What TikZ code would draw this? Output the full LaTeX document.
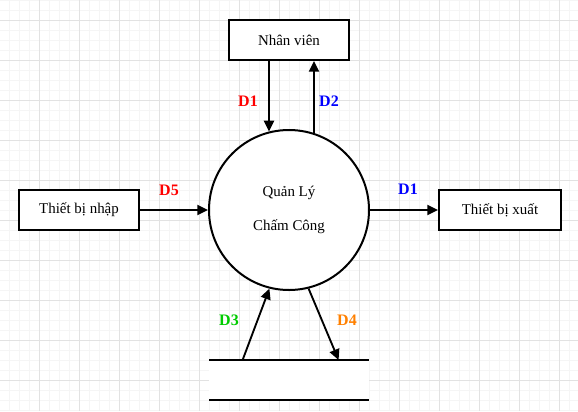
\documentclass[tikz,border=0pt]{standalone}
\usepackage{fontspec}
\setmainfont{Liberation Serif}
\usetikzlibrary{arrows.meta,calc}
\definecolor{gridmaj}{HTML}{E2E2E2}
\definecolor{gridmin}{HTML}{F5F5F5}
\definecolor{dred}{HTML}{FF0000}
\definecolor{dblue}{HTML}{0000FF}
\definecolor{dgreen}{HTML}{00CC00}
\definecolor{dorange}{HTML}{FF8000}

\begin{document}
\begin{tikzpicture}[x=0.75pt,y=-0.75pt,font=\fontsize{11.2}{13}\selectfont,
  entity/.style={draw,line width=1.5pt,fill=white,minimum width=90pt,minimum height=30pt,inner sep=0pt},
  process/.style={circle,draw,line width=1.5pt,fill=white,minimum size=120pt,inner sep=0pt,align=center},
  flow/.style={line width=1.4pt,-{Triangle[length=8pt,width=7.5pt]}},
  dlabel/.style={font=\fontsize{12}{14}\selectfont\bfseries}]
  \useasboundingbox (0,0) rectangle (578,411);
  \fill[white] (0,0) rectangle (578,411);
  % grid
  \foreach \x in {-1,9,...,579} \draw[gridmin,line width=0.75pt] (\x,0) -- (\x,411);
  \foreach \y in {0,10,...,410} \draw[gridmin,line width=0.75pt] (0,\y) -- (578,\y);
  \foreach \x in {39,79,...,559} \draw[gridmaj,line width=0.75pt] (\x,0) -- (\x,411);
  \foreach \y in {20,60,...,380} \draw[gridmaj,line width=0.75pt] (0,\y) -- (578,\y);

  % entities and process
  \node[entity] (nv) at (289,40) {Nhân viên};
  \node[entity] (tbn) at (79,210) {Thiết bị nhập};
  \node[entity,minimum width=91.5pt] (tbx) at (500,210) {Thiết bị xuất};
  \node[process] (proc) at (289,210) {Quản Lý\\[13pt]Chấm Công};

  % data store
  \node[fill=white,minimum width=120pt,minimum height=30pt,inner sep=0pt,outer sep=0pt] (store) at (289,380) {};
  \draw[line width=1.5pt] (store.north west) -- (store.north east);
  \draw[line width=1.5pt] (store.south west) -- (store.south east);

  % flows
  \coordinate (nvin) at ($(nv.south)+(-20,0)$);
  \coordinate (nvout) at ($(nv.south)+(25,0)$);
  \draw[flow] (nvin) -- (nvin |- proc.104.5);
  \draw[flow] (nvout |- proc.72) -- (nvout);
  \draw[flow] (tbn.east) -- (proc.west);
  \draw[flow] (proc.east) -- (tbx.west);
  \draw[flow] ($(store.north west)!0.21!(store.north east)$) -- (proc.256);
  \draw[flow] (proc.-76) -- ($(store.north west)!0.81!(store.north east)$);

  % labels
  \node[dlabel,text=dred] (lbnvin) at (248,101) {D1};
  \node[dlabel,text=dblue] (lbnvout) at (329,101) {D2};
  \node[dlabel,text=dred] (lbin) at (169,190) {D5};
  \node[dlabel,text=dblue] (lbout) at (408,189) {D1};
  \node[dlabel,text=dgreen] (lbread) at (229,320) {D3};
  \node[dlabel,text=dorange] (lbwrite) at (347,320) {D4};
\end{tikzpicture}
\end{document}
